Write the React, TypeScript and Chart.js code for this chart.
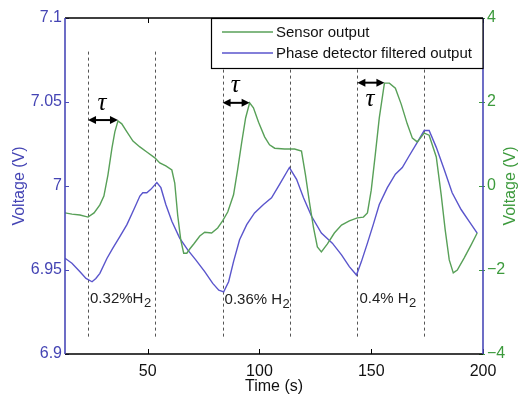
import React, { useEffect, useRef } from "react";
import { Chart, registerables } from "chart.js";

Chart.register(...registerables);

// ---- data ----
const sensorTime = [13, 16.1, 19.7, 23.3, 26, 28.6, 30.4, 32.2, 34, 35.3, 36.7, 38.4, 40.7, 43.4, 46.5, 49.6, 53.2, 55.4, 58.1, 60.8, 62.1, 63.4, 64.8, 66.1, 67.5, 68.8, 70.6, 73.3, 75.5, 78.6, 81.3, 83.5, 85.8, 88.4, 90.2, 92, 93.8, 95.6, 97.3, 99.6, 102.3, 104.5, 106.8, 111.2, 115.7, 118.8, 120.6, 122.4, 124.2, 125.9, 127.7, 130.4, 133.5, 136.7, 140.2, 143.8, 146.5, 148.3, 150, 151.8, 153.6, 155.9, 158.1, 160.8, 163.4, 166.1, 168.4, 170.6, 173.7, 175.9, 179.1, 181.3, 183.1, 184.9, 186.7, 188.5, 191.6, 194.7, 197.4];
const sensorVolt = [-0.64, -0.67, -0.69, -0.74, -0.64, -0.45, -0.24, 0.26, 0.9, 1.29, 1.55, 1.48, 1.29, 1.07, 0.93, 0.81, 0.67, 0.55, 0.48, 0.38, 0.07, -0.69, -1.29, -1.6, -1.6, -1.5, -1.38, -1.19, -1.1, -1.12, -1.0, -0.83, -0.62, -0.21, 0.38, 1.02, 1.62, 1.98, 1.86, 1.52, 1.17, 0.98, 0.9, 0.88, 0.88, 0.83, 0.26, -0.4, -1.0, -1.45, -1.57, -1.38, -1.12, -0.93, -0.83, -0.76, -0.74, -0.64, -0.1, 0.74, 1.62, 2.45, 2.45, 2.33, 1.95, 1.48, 1.14, 1.05, 1.26, 1.21, 0.69, -0.21, -1.05, -1.76, -2.07, -2.0, -1.71, -1.4, -1.12];

const phaseTime = [13, 16.1, 19.7, 22.4, 25.1, 26.8, 28.6, 31.8, 34.4, 37.6, 40.7, 43.8, 46.5, 47.8, 49.6, 51.4, 54.1, 55.9, 58.1, 60.8, 64.3, 67.9, 71.5, 75.5, 79.1, 81.8, 84, 86.2, 88.4, 91.1, 94.3, 97.8, 101.8, 105.4, 109, 113.4, 116.6, 119.7, 123.3, 127.7, 132.6, 136.7, 140.2, 143.4, 145.6, 148.3, 150.9, 153.6, 157.2, 160.8, 163.9, 167, 170.6, 173.7, 175.9, 179.1, 182.6, 186.2, 190.2, 193.8, 197.4];
const phaseVolt = [6.957, 6.954, 6.949, 6.945, 6.943, 6.945, 6.948, 6.957, 6.963, 6.97, 6.977, 6.986, 6.994, 6.996, 6.996, 6.998, 7.002, 6.999, 6.989, 6.979, 6.969, 6.962, 6.956, 6.949, 6.942, 6.938, 6.937, 6.943, 6.955, 6.968, 6.977, 6.984, 6.989, 6.993, 7.001, 7.011, 7.004, 6.993, 6.982, 6.972, 6.966, 6.959, 6.952, 6.947, 6.955, 6.966, 6.977, 6.989, 6.999, 7.007, 7.011, 7.018, 7.026, 7.033, 7.033, 7.023, 7.01, 6.996, 6.986, 6.979, 6.972];

const markerTimes = [23.3, 53.3, 83.5, 113.8, 143.8, 173.7];
const markerRange = [6.91, 7.08];
const tauStart = [23.3, 83.5, 143.8];
const tauEnd = [36.7, 95.6, 155.9];
const tauLevel = [1.57, 1.98, 2.46];
const tauAbove = [true, true, false];
const concTimes = [23.3, 83.5, 143.8];
const concMain = ["0.32%H", "0.36% H", "0.4% H"];
const concSub = ["2", "2", "2"];
const concLevel = [6.9335, 6.9325, 6.9335];

const xTicks = [50, 100, 150, 200];
const leftTicks = [6.9, 6.95, 7, 7.05, 7.1];
const rightTicks = [-4, -2, 0, 2, 4];

const seriesNames = ["Sensor output", "Phase detector filtered output"];

const FONT = '"Liberation Sans", Arial, sans-serif';
const BLUE_LINE = "#5a55cc";
const GREEN_LINE = "#58a058";
const BLUE_TEXT = "#4444b4";
const GREEN_TEXT = "#3c9a3c";
const AXIS_BLUE = "#4a4ab8";

const decor = {
  id: "decor",
  beforeDatasetsDraw(chart: any) {
    const { ctx, scales } = chart;
    const x = scales.x, y = scales.y;
    ctx.save();
    ctx.strokeStyle = "#555";
    ctx.lineWidth = 1;
    ctx.setLineDash([3, 3]);
    for (const t of markerTimes) {
      const px = Math.round(x.getPixelForValue(t)) + 0.5;
      ctx.beginPath();
      ctx.moveTo(px, y.getPixelForValue(markerRange[1]));
      ctx.lineTo(px, y.getPixelForValue(markerRange[0]));
      ctx.stroke();
    }
    ctx.restore();
  },
  afterDraw(chart: any) {
    const { ctx, chartArea: a, scales } = chart;
    const x = scales.x, y = scales.y, y2 = scales.y2;
    ctx.save();
    // ticks
    ctx.lineWidth = 1;
    ctx.strokeStyle = "#000";
    for (const t of xTicks) {
      const px = Math.round(x.getPixelForValue(t)) + 0.5;
      ctx.beginPath();
      ctx.moveTo(px, a.bottom); ctx.lineTo(px, a.bottom - 5);
      ctx.moveTo(px, a.top); ctx.lineTo(px, a.top + 5);
      ctx.stroke();
    }
    ctx.strokeStyle = AXIS_BLUE;
    for (const v of leftTicks) {
      const py = Math.round(y.getPixelForValue(v)) + 0.5;
      ctx.beginPath(); ctx.moveTo(a.left, py); ctx.lineTo(a.left + 4, py); ctx.stroke();
    }
    ctx.strokeStyle = GREEN_TEXT;
    for (const v of rightTicks) {
      const py = Math.round(y2.getPixelForValue(v)) + 0.5;
      ctx.beginPath(); ctx.moveTo(a.right - 4, py); ctx.lineTo(a.right + 2, py); ctx.stroke();
    }
    // frame
    ctx.lineWidth = 1.6;
    ctx.strokeStyle = "#000";
    ctx.beginPath();
    ctx.moveTo(a.left, a.top); ctx.lineTo(a.right, a.top);
    ctx.moveTo(a.left, a.bottom); ctx.lineTo(a.right, a.bottom);
    ctx.stroke();
    ctx.strokeStyle = AXIS_BLUE;
    ctx.beginPath();
    ctx.moveTo(a.left, a.top); ctx.lineTo(a.left, a.bottom);
    ctx.moveTo(a.right, a.top); ctx.lineTo(a.right, a.bottom);
    ctx.stroke();

    // legend
    const lw = 272, lh = 50;
    const lx = a.right - lw, ly = a.top;
    ctx.fillStyle = "#fff";
    ctx.fillRect(lx, ly, lw, lh);
    ctx.strokeStyle = "#000";
    ctx.lineWidth = 1.2;
    ctx.strokeRect(lx + 0.5, ly + 0.5, lw - 0.5, lh);
    const colors = [GREEN_LINE, BLUE_LINE];
    ctx.font = `15px ${FONT}`;
    ctx.textBaseline = "middle";
    ctx.textAlign = "left";
    seriesNames.forEach((n, i) => {
      const yy = ly + 14 + i * 21;
      ctx.strokeStyle = colors[i];
      ctx.lineWidth = 1.5;
      ctx.beginPath(); ctx.moveTo(lx + 11, yy); ctx.lineTo(lx + 62, yy); ctx.stroke();
      ctx.fillStyle = "#111";
      ctx.fillText(n, lx + 65, yy + 1);
    });

    // tau arrows
    ctx.strokeStyle = "#000";
    ctx.fillStyle = "#000";
    ctx.lineWidth = 2;
    for (let i = 0; i < tauStart.length; i++) {
      const x0 = x.getPixelForValue(tauStart[i]);
      const x1 = x.getPixelForValue(tauEnd[i]);
      const py = y2.getPixelForValue(tauLevel[i]);
      ctx.beginPath(); ctx.moveTo(x0 + 4, py); ctx.lineTo(x1 - 4, py); ctx.stroke();
      ctx.beginPath();
      ctx.moveTo(x0, py); ctx.lineTo(x0 + 8, py - 4); ctx.lineTo(x0 + 8, py + 4); ctx.closePath();
      ctx.moveTo(x1, py); ctx.lineTo(x1 - 8, py - 4); ctx.lineTo(x1 - 8, py + 4); ctx.closePath();
      ctx.fill();
      ctx.font = `italic 25px "Liberation Serif", "DejaVu Serif", serif`;
      ctx.textAlign = "center";
      ctx.textBaseline = "middle";
      const cx = (x0 + x1) / 2 - 1;
      ctx.fillText("\u03c4", cx, tauAbove[i] ? py - 17 : py + 17);
    }

    // concentration labels
    ctx.fillStyle = "#222";
    ctx.textAlign = "left";
    ctx.textBaseline = "alphabetic";
    for (let i = 0; i < concTimes.length; i++) {
      const px = x.getPixelForValue(concTimes[i]) + 2;
      const py = y.getPixelForValue(concLevel[i]) + 5;
      ctx.font = `15px ${FONT}`;
      ctx.fillText(concMain[i], px, py);
      const w = ctx.measureText(concMain[i]).width;
      ctx.font = `13px ${FONT}`;
      ctx.fillText(concSub[i], px + w + 0.5, py + 4);
    }

    // axis titles
    ctx.font = `16px ${FONT}`;
    ctx.textAlign = "center";
    ctx.textBaseline = "middle";
    const cy = (a.top + a.bottom) / 2;
    ctx.fillStyle = BLUE_TEXT;
    ctx.save(); ctx.translate(20, cy); ctx.rotate(-Math.PI / 2); ctx.fillText("Voltage (V)", 0, 0); ctx.restore();
    ctx.fillStyle = GREEN_TEXT;
    ctx.save(); ctx.translate(a.right + 28, cy); ctx.rotate(-Math.PI / 2); ctx.fillText("Voltage (V)", 0, 0); ctx.restore();
    ctx.fillStyle = "#111";
    ctx.fillText("Time (s)", (a.left + a.right) / 2, a.bottom + 33);
    ctx.restore();
  },
};

export default function App() {
  const ref = useRef<HTMLCanvasElement>(null);
  useEffect(() => {
    if (!ref.current) return;
    const chart = new Chart(ref.current, {
      type: "line",
      data: {
        datasets: [
          {
            label: seriesNames[0],
            data: sensorTime.map((t, i) => ({ x: t, y: sensorVolt[i] })),
            borderColor: GREEN_LINE,
            borderWidth: 1.4,
            pointRadius: 0,
            tension: 0,
            yAxisID: "y2",
          },
          {
            label: seriesNames[1],
            data: phaseTime.map((t, i) => ({ x: t, y: phaseVolt[i] })),
            borderColor: BLUE_LINE,
            borderWidth: 1.4,
            pointRadius: 0,
            tension: 0,
            yAxisID: "y",
          },
        ],
      },
      options: {
        animation: false,
        responsive: false,
        events: [],
        layout: { padding: { top: 18, left: 0, right: 0, bottom: 0 } },
        plugins: { legend: { display: false }, tooltip: { enabled: false }, title: { display: false } },
        scales: {
          x: {
            type: "linear",
            position: "bottom",
            min: 13,
            max: 200,
            grid: { display: false, drawTicks: false },
            border: { display: false },
            afterBuildTicks: (s: any) => { s.ticks = xTicks.map((v) => ({ value: v })); },
            afterFit: (s: any) => { s.height = 42; },
            ticks: { padding: 8, color: "#111", font: { family: FONT, size: 16 }, maxRotation: 0, callback: (v: any) => String(v) },
          },
          y: {
            type: "linear",
            position: "left",
            min: 6.9,
            max: 7.1,
            grid: { display: false, drawTicks: false },
            border: { display: false },
            afterBuildTicks: (s: any) => { s.ticks = leftTicks.map((v) => ({ value: v })); },
            afterFit: (s: any) => { s.width = 65; },
            ticks: { padding: 3, color: BLUE_TEXT, font: { family: FONT, size: 16 }, callback: (v: any) => String(Number(Number(v).toFixed(2))) },
          },
          y2: {
            type: "linear",
            position: "right",
            min: -4,
            max: 4,
            grid: { display: false, drawTicks: false },
            border: { display: false },
            afterBuildTicks: (s: any) => { s.ticks = rightTicks.map((v) => ({ value: v })); },
            afterFit: (s: any) => { s.width = 38; },
            ticks: { padding: 4, color: GREEN_TEXT, font: { family: FONT, size: 16 }, callback: (v: any) => (Number(v) < 0 ? "\u2212" + Math.abs(Number(v)) : String(v)) },
          },
        },
      },
      plugins: [decor],
    } as any);
    return () => chart.destroy();
  }, []);
  return (
    <div style={{ position: "fixed", left: 0, top: 0, width: 521, height: 396, background: "#fff" }}>
      <canvas ref={ref} width={521} height={396} style={{ display: "block" }} />
    </div>
  );
}
